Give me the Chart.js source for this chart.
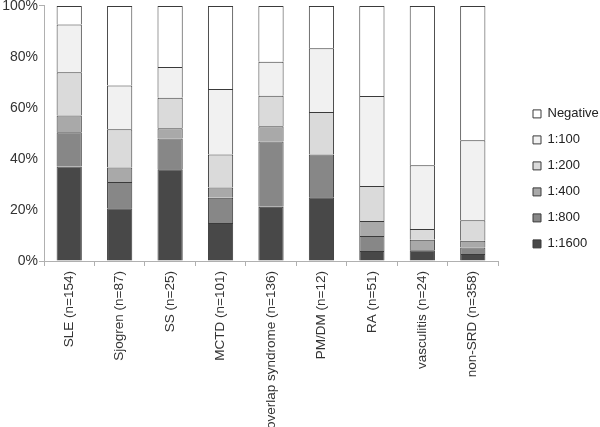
<!DOCTYPE html>
<html>
<head>
<meta charset="utf-8">
<script src="https://cdn.jsdelivr.net/npm/chart.js@4"></script>
<style>
  html, body { margin: 0; padding: 0; background: #fff; }
  #wrap { width: 600px; height: 427px; position: relative; }
</style>
</head>
<body>
<div id="wrap"><canvas id="c"></canvas></div>
<script>
const categories = ["SLE (n=154)", "Sjogren (n=87)", "SS (n=25)", "MCTD (n=101)", "overlap syndrome (n=136)", "PM/DM (n=12)", "RA (n=51)", "vasculitis (n=24)", "non-SRD (n=358)"];
const t1600 = [37.0, 20.7, 36.0, 14.9, 21.3, 25.0, 3.9, 4.2, 2.7];
const t800  = [13.5, 10.3, 12.0, 9.9, 25.5, 16.7, 5.9, 0, 2.6];
const t400  = [6.5, 5.7, 4.0, 4.0, 6.0, 0, 5.9, 4.1, 2.6];
const t200  = [17.0, 14.9, 12.0, 12.9, 12.0, 16.7, 13.7, 4.2, 8.1];
const t100  = [18.7, 17.2, 12.0, 25.7, 13.3, 25.0, 35.3, 25.0, 31.3];
const tNeg  = [7.3, 31.2, 24.0, 32.6, 21.9, 16.6, 35.3, 62.5, 52.7];
const seriesLabels = ["1:1600", "1:800", "1:400", "1:200", "1:100", "Negative"];
const yTicks = [0, 20, 40, 60, 80, 100];

const colors = ["#484848", "#878787", "#a9a9a9", "#dadada", "#f1f1f1", "#ffffff"];
const seriesData = [t1600, t800, t400, t200, t100, tNeg];

const datasets = seriesData.map((d, i) => ({
  label: seriesLabels[i],
  data: d,
  backgroundColor: colors[i],
  borderColor: "#3a3a3a",
  borderWidth: 1,
  barPercentage: 0.5,
  categoryPercentage: 1.0
}));

const FONT = "'Liberation Sans', Arial, sans-serif";

new Chart(document.getElementById('c'), {
  type: 'bar',
  data: { labels: categories, datasets },
  options: {
    responsive: true,
    maintainAspectRatio: false,
    animation: false,
    layout: { padding: 0 },
    plugins: {
      tooltip: { enabled: false },
      legend: {
        position: 'right',
        align: 'start',
        reverse: true,
        maxWidth: 80,
        title: { display: true, text: '', padding: { top: 0, bottom: 80 } },
        labels: {
          boxWidth: 8,
          boxHeight: 8,
          padding: 13,
          color: '#222',
          font: { family: FONT, size: 13 }
        }
      }
    },
    scales: {
      x: {
        stacked: true,
        grid: { display: true, drawOnChartArea: false, drawTicks: true, tickLength: 5, color: '#b0b0b0', offset: true },
        border: { display: true, color: '#b0b0b0' },
        ticks: {
          autoSkip: false,
          maxRotation: 90,
          minRotation: 90,
          padding: 5,
          color: '#333',
          font: { family: FONT, size: 13.5 }
        },
        afterFit(s) { s.height = 166; }
      },
      y: {
        stacked: true,
        min: 0,
        max: 100,
        afterBuildTicks(s) { s.ticks = yTicks.map(v => ({ value: v })); },
        grid: {
          display: true,
          drawOnChartArea: false,
          drawTicks: true,
          tickLength: 5,
          tickColor: ctx => (ctx.tick && (ctx.tick.value === 0 || ctx.tick.value === 100)) ? '#b0b0b0' : 'rgba(0,0,0,0)'
        },
        border: { display: true, color: '#b0b0b0' },
        ticks: {
          padding: 1,
          color: '#333',
          font: { family: FONT, size: 14, lineHeight: 0.7 },
          callback: v => v + '%'
        },
        afterFit(s) { s.width = 44; }
      },
      yR: {
        position: 'right',
        display: true,
        grid: { display: false, drawTicks: false },
        border: { display: false },
        ticks: { display: false },
        afterFit(s) { s.width = 22; }
      }
    }
  }
});
</script>
</body>
</html>
